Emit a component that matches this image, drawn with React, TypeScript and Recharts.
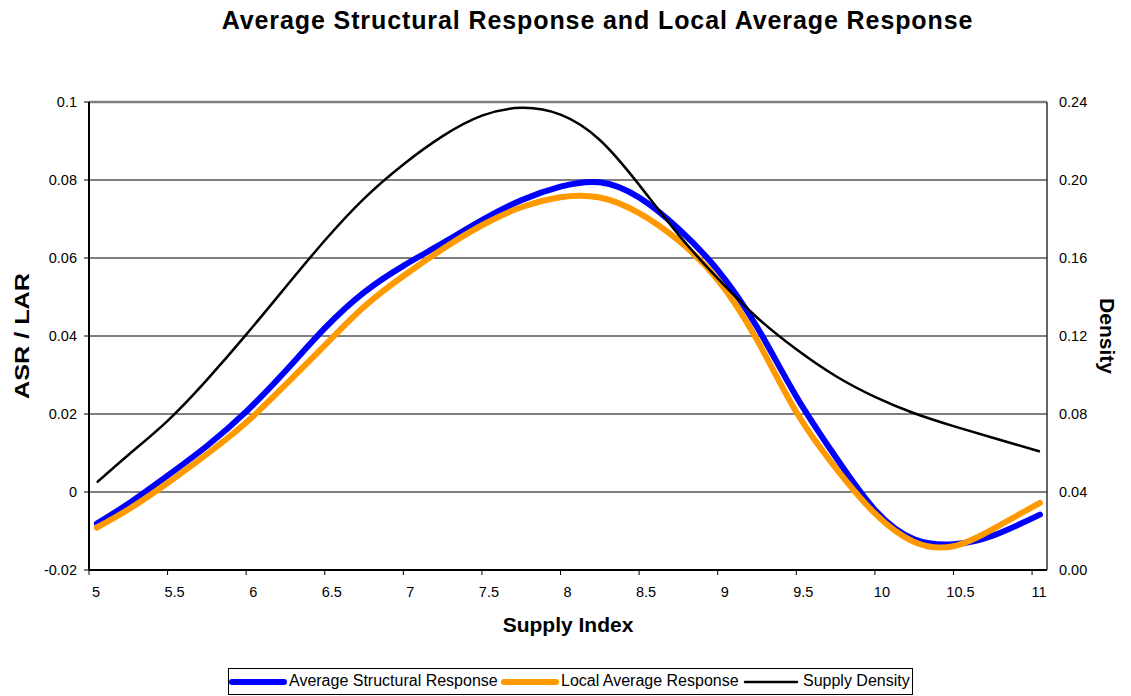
import React from 'react';
import { CartesianGrid, Line, LineChart, ReferenceLine, XAxis, YAxis } from 'recharts';

const supplyIndex = [5.05, 5.25, 5.5, 5.75, 6, 6.25, 6.5, 6.75, 7, 7.25, 7.5, 7.75, 8, 8.25, 8.5, 8.75, 9, 9.25, 9.5, 9.75, 10, 10.25, 10.5, 10.75, 11.05];
const asrValues = [-0.0081, -0.003, 0.0042, 0.0118, 0.0206, 0.031, 0.042, 0.0512, 0.058, 0.0638, 0.0697, 0.0748, 0.0783, 0.0794, 0.0755, 0.0675, 0.0569, 0.0423, 0.0245, 0.009, -0.0046, -0.0121, -0.0134, -0.0112, -0.0058];
const larValues = [-0.0091, -0.0045, 0.0023, 0.0097, 0.0178, 0.0275, 0.0376, 0.0475, 0.0554, 0.0623, 0.0684, 0.073, 0.0756, 0.0755, 0.0715, 0.0645, 0.0544, 0.039, 0.0205, 0.0062, -0.0055, -0.0128, -0.0139, -0.0095, -0.0028];
const densityValues = [0.0449, 0.059, 0.0765, 0.0975, 0.1207, 0.145, 0.169, 0.1905, 0.208, 0.2225, 0.233, 0.237, 0.2335, 0.2205, 0.1975, 0.172, 0.1495, 0.1295, 0.1132, 0.0995, 0.0888, 0.0804, 0.0738, 0.0678, 0.0608];

const xTicks = [5, 5.5, 6, 6.5, 7, 7.5, 8, 8.5, 9, 9.5, 10, 10.5, 11];
const leftTicks = [-0.02, 0, 0.02, 0.04, 0.06, 0.08, 0.1];
const rightTicks = [0, 0.04, 0.08, 0.12, 0.16, 0.2, 0.24];

const data = supplyIndex.map((x, i) => ({
  x,
  asr: asrValues[i],
  lar: larValues[i],
  density: densityValues[i],
}));

const font = '"Liberation Sans", Arial, sans-serif';
const tickStyle = { fill: '#000', fontSize: 14.5, fontFamily: font };

const XTick = (props: any) => {
  const { x, y, payload } = props;
  return (
    <text x={x + 7} y={y} dy={20} textAnchor="middle" {...tickStyle}>
      {payload.value}
    </text>
  );
};

const legendItems = [
  { label: 'Average Structural Response', color: '#0000ff', width: 6, lineX: 232, textX: 289 },
  { label: 'Local Average Response', color: '#ff9900', width: 6, lineX: 504, textX: 561 },
  { label: 'Supply Density', color: '#000000', width: 2.5, lineX: 745, textX: 803 },
];

export default function App() {
  return (
    <div style={{ position: 'absolute', left: 0, top: 0, width: 1131, height: 696, background: '#fff', fontFamily: font }}>
      <div style={{ position: 'absolute', left: 32, width: 1131, top: 6, textAlign: 'center', fontSize: 25, fontWeight: 700, letterSpacing: 0.9 }}>
        Average Structural Response and Local Average Response
      </div>

      <LineChart width={1131} height={696} data={data} margin={{ top: 102, right: 24, bottom: 96, left: 29 }}>
        <CartesianGrid yAxisId="left" vertical={false} stroke="#000" strokeWidth={1} />
        <XAxis
          dataKey="x"
          type="number"
          domain={[5, 11.095]}
          ticks={xTicks}
          allowDataOverflow
          height={30}
          tickSize={5}
          tick={<XTick />}
          axisLine={{ stroke: '#000', strokeWidth: 2 }}
          tickLine={{ stroke: '#000' }}
        />
        <YAxis
          yAxisId="left"
          domain={[-0.02, 0.1]}
          ticks={leftTicks}
          width={60}
          tickSize={5}
          tickMargin={7}
          tick={tickStyle}
          tickFormatter={(v: number) => String(Number(v.toFixed(2)))}
          axisLine={{ stroke: '#000', strokeWidth: 2 }}
          tickLine={{ stroke: '#000' }}
        />
        <YAxis
          yAxisId="right"
          orientation="right"
          domain={[0, 0.24]}
          ticks={rightTicks}
          width={60}
          tickSize={0}
          tickMargin={12}
          tick={tickStyle}
          tickFormatter={(v: number) => v.toFixed(2)}
          axisLine={{ stroke: '#333', strokeWidth: 1.5 }}
          tickLine={false}
        />
        <ReferenceLine yAxisId="left" y={0.1} stroke="#808080" strokeWidth={2.5} />
        <Line yAxisId="left" type="natural" dataKey="asr" stroke="#0000ff" strokeWidth={6} strokeLinecap="round" dot={false} isAnimationActive={false} />
        <Line yAxisId="left" type="natural" dataKey="lar" stroke="#ff9900" strokeWidth={6} strokeLinecap="round" dot={false} isAnimationActive={false} />
        <Line yAxisId="right" type="natural" dataKey="density" stroke="#000" strokeWidth={2.5} dot={false} isAnimationActive={false} />
      </LineChart>

      <div style={{ position: 'absolute', left: 0, top: 336, width: 0, height: 0 }}>
        <div style={{ position: 'absolute', left: 22, top: 0, transform: 'translate(-50%, -50%) rotate(-90deg) scaleX(1.2)', whiteSpace: 'nowrap', fontSize: 21, fontWeight: 700 }}>
          ASR / LAR
        </div>
        <div style={{ position: 'absolute', left: 1107, top: 0, transform: 'translate(-50%, -50%) rotate(90deg)', whiteSpace: 'nowrap', fontSize: 21, fontWeight: 700 }}>
          Density
        </div>
      </div>
      <div style={{ position: 'absolute', left: 0, width: 1136, top: 613, textAlign: 'center', fontSize: 21, fontWeight: 700 }}>
        Supply Index
      </div>

      <div style={{ position: 'absolute', left: 228, top: 668, width: 685, height: 27, boxSizing: 'border-box', border: '1px solid #000' }} />
      {legendItems.map((item) => (
        <React.Fragment key={item.label}>
          <svg style={{ position: 'absolute', left: item.lineX - 4, top: 676, overflow: 'visible' }} width={64} height={12}>
            <line x1={4} y1={6} x2={56} y2={6} stroke={item.color} strokeWidth={item.width} strokeLinecap="round" />
          </svg>
          <div style={{ position: 'absolute', left: item.textX, top: 672, fontSize: 16, whiteSpace: 'nowrap' }}>{item.label}</div>
        </React.Fragment>
      ))}
    </div>
  );
}
